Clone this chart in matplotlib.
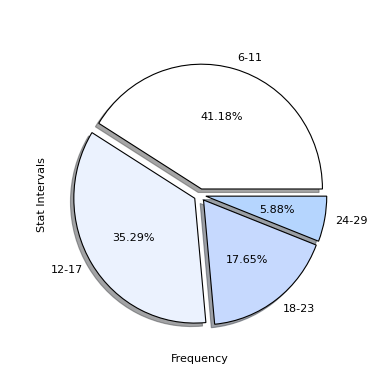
import matplotlib
matplotlib.use('Agg')
import matplotlib.pyplot as plt

intervals = ['6-11', '12-17', '18-23', '24-29']
counts = [7, 6, 3, 1]
colors = ['#FFFFFF', '#EBF2FE', '#C6D9FE', '#B5D5FE']
explode = [0.05, 0.05, 0.05, 0.05]

fig = plt.figure(figsize=(3.9, 3.9), dpi=100)
fig.subplots_adjust(left=0.125, right=0.9, bottom=0.1, top=0.9)
ax = fig.add_subplot(111)
ax.pie(counts, labels=intervals, colors=colors, explode=explode,
       autopct='%1.2f%%', shadow=True, labeldistance=1.09,
       wedgeprops={'edgecolor': 'black', 'linewidth': 0.8},
       textprops={'fontsize': 8})
# stretched a bit vertically like the original
ax.set_aspect('auto')
ax.set_xlabel('Frequency', fontsize=8, labelpad=2.5)
ax.set_ylabel('Stat Intervals', fontsize=8, labelpad=1.5)
plt.savefig('out.png', dpi=100)
